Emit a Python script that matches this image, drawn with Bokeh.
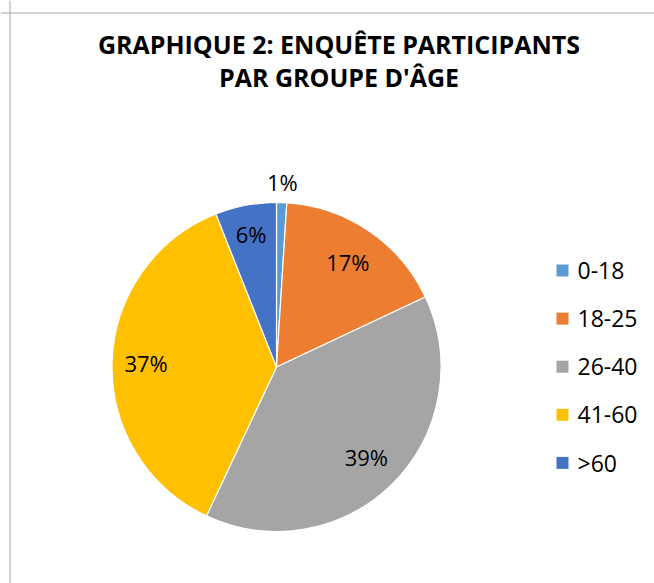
import math
from bokeh.plotting import figure
from bokeh.models import Range1d, Span, ColumnDataSource
from bokeh.core.properties import value
from bokeh.embed import file_html
from bokeh.resources import INLINE

# ---- data ----
categories = ["0-18", "18-25", "26-40", "41-60", ">60"]
percents = [1, 17, 39, 37, 6]
colors = ["#5B9BD5", "#ED7D31", "#A5A5A5", "#FFC000", "#4472C4"]
title_lines = ["GRAPHIQUE 2: ENQUÊTE PARTICIPANTS", "PAR GROUPE D'ÂGE"]

# ---- layout / style ----
W, H = 654, 583
CX, CY, R = 276, 216.5, 164.5
label_r = [1.125, 0.772, 0.772, 0.793, 0.824]   # label distance (x radius)
FONT = "Open Sans"

p = figure(width=W, height=H, x_range=Range1d(0, W), y_range=Range1d(0, H),
           min_border=0, toolbar_location=None, output_backend="svg",
           x_axis_location=None, y_axis_location=None, title=None)
p.grid.visible = False
p.outline_line_color = None
p.background_fill_color = "white"
p.border_fill_color = "white"

# border (only the top and left edges are visible in the reference)
p.add_layout(Span(location=9.5, dimension="height", line_color="#A6A6A6", line_width=1))
p.add_layout(Span(location=H - 12.5, dimension="width", line_color="#A6A6A6", line_width=1))

# pie wedges
total = float(sum(percents))
starts, ends, mids = [], [], []
cum = 0.0
for v in percents:
    a0 = math.pi / 2 - 2 * math.pi * cum / total
    cum += v
    a1 = math.pi / 2 - 2 * math.pi * cum / total
    starts.append(a0)
    ends.append(a1)
    mids.append((a0 + a1) / 2)

src = ColumnDataSource(dict(start=starts, end=ends, color=colors, cat=categories))
p.wedge(x=CX, y=CY, radius=R, radius_units="screen", start_angle="start", end_angle="end",
        direction="clock", fill_color="color", line_color="white", line_width=1.2, source=src)

# data labels
lx = [CX + f * R * math.cos(m) for f, m in zip(label_r, mids)]
ly = [CY + f * R * math.sin(m) for f, m in zip(label_r, mids)]
lt = [f"{v}%" for v in percents]
p.text(x=lx, y=ly, text=lt, text_font=value(FONT), text_font_size="22px",
       text_color="#000000", text_align="center", text_baseline="alphabetic")

# legend
leg_x_sq, leg_x_txt, leg_y0, leg_dy = 562, 577, 313, 48.1
sq_y = [leg_y0 - i * leg_dy for i in range(len(categories))]
p.scatter(x=[leg_x_sq] * len(categories), y=sq_y, marker="square", size=12,
          fill_color=colors, line_color=None)
p.text(x=[leg_x_txt] * len(categories), y=sq_y, text=categories,
       text_font=value(FONT), text_font_size="23px", text_color="#000000",
       text_align="left", text_baseline="alphabetic")

# title
p.text(x=[338.5, 338.5], y=[539.5, 506.5], text=title_lines, text_font=value(FONT),
       text_font_size="25px", text_font_style="bold", text_color="#000000",
       text_align="center", text_baseline="alphabetic")

open("out.html", "w").write(file_html(p, INLINE))
